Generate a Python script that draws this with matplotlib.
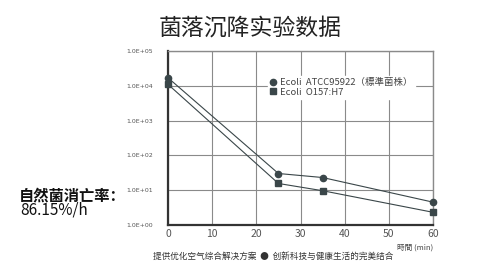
import matplotlib
matplotlib.use("Agg")
import matplotlib.pyplot as plt
from matplotlib.ticker import FixedLocator, NullLocator

plt.rcParams['font.family'] = ['Noto Sans CJK SC', 'DejaVu Sans']

# Data
time_min = [0, 25, 35, 60]
atcc = [17000, 30, 23, 4.5]
o157 = [11000, 15.5, 9.6, 2.3]
series_labels = ["Ecoli  ATCC95922（標準菌株）", "Ecoli  O157:H7"]
x_ticks = [0, 10, 20, 30, 40, 50, 60]
y_ticks = [1, 10, 100, 1000, 10000, 100000]
y_tick_labels = ["1.0E+00", "1.0E+01", "1.0E+02", "1.0E+03", "1.0E+04", "1.0E+05"]

fig = plt.figure(figsize=(5.0, 2.63), dpi=100)
fig.patch.set_facecolor('white')
ax = fig.add_axes([0.336, 0.145, 0.530, 0.661])

line_color = '#3a4649'
ax.plot(time_min, atcc, color=line_color, lw=0.8, marker='o', ms=4.5,
        label=series_labels[0], zorder=3, clip_on=False)
ax.plot(time_min, o157, color=line_color, lw=0.8, marker='s', ms=4,
        label=series_labels[1], zorder=3, clip_on=False)

ax.set_yscale('log')
ax.set_ylim(1, 100000)
ax.set_xlim(0, 60)
ax.yaxis.set_major_locator(FixedLocator(y_ticks))
ax.yaxis.set_minor_locator(NullLocator())
ax.set_yticks(y_ticks)
ax.set_yticklabels(y_tick_labels, fontsize=4.5, color='#555555', family='DejaVu Sans')
ax.set_xticks(x_ticks)
ax.set_xticklabels([str(v) for v in x_ticks], fontsize=7.5, color='#555555')
ax.tick_params(axis='y', length=0, pad=11)
ax.tick_params(axis='x', length=0, pad=3)

ax.grid(True, color='#8a8a8a', lw=0.8)
ax.set_axisbelow(True)
for s in ['top', 'right']:
    ax.spines[s].set_color('#8a8a8a')
    ax.spines[s].set_linewidth(1.0)
for s in ['left', 'bottom']:
    ax.spines[s].set_color('#333333')
    ax.spines[s].set_linewidth(1.6)

leg = ax.legend(loc='upper left', bbox_to_anchor=(0.36, 0.885), fontsize=6.8,
                frameon=True, fancybox=False, edgecolor='white',
                framealpha=1.0, handlelength=0.6, handletextpad=0.45,
                borderpad=0.25, labelspacing=0.05)
for h in leg.legend_handles:
    h.set_linestyle('None')
for t in leg.get_texts():
    t.set_color('#444444')

fig.text(0.866, 0.052, "時間 (min)", fontsize=5.5, color='#444444', ha='right')

fig.text(0.5, 0.893, "菌落沉降实验数据", fontsize=16.5, ha='center', va='center',
         color='#222222', fontweight='light')
fig.text(0.038, 0.258, "自然菌消亡率：", fontsize=11, fontweight='bold', ha='left',
         va='center', color='#111111')
fig.text(0.04, 0.2, "86.15%/h", fontsize=11, ha='left', va='center', color='#111111')
fig.text(0.546, 0.027, "提供优化空气综合解决方案  ●  创新科技与健康生活的完美结合",
         fontsize=6.2, ha='center', va='center', color='#333333')

fig.savefig("out.png", dpi=100, facecolor='white')
